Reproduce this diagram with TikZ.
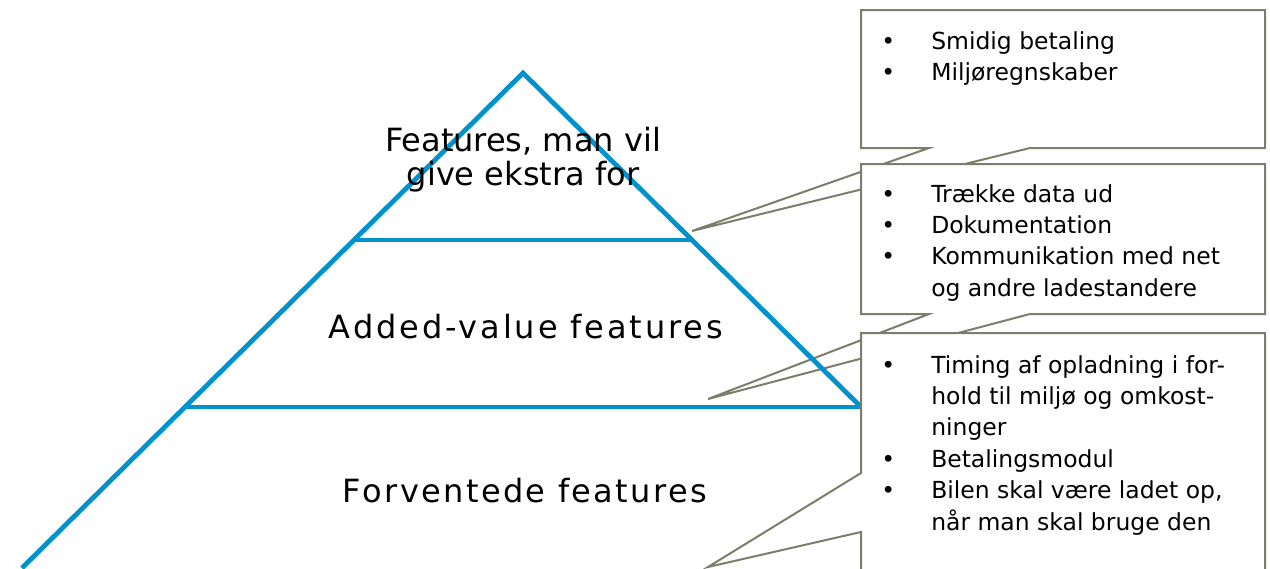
\documentclass[tikz,border=0pt]{standalone}
\usepackage{fontspec}
\setmainfont{DejaVu Sans}
\newfontfamily\spacedA[LetterSpace=9]{DejaVu Sans}
\newfontfamily\spacedB[LetterSpace=7.5]{DejaVu Sans}
\definecolor{pyrblue}{RGB}{0,146,205}
\definecolor{callgray}{RGB}{125,125,108}
\tikzset{
  pyr/.style={draw=pyrblue, line width=3.6pt, line join=miter},
  callout/.style={draw=callgray, fill=white, line width=1.5pt, line join=miter},
  biglabel/.style={anchor=base, inner sep=0pt, font=\fontsize{24pt}{25pt}\selectfont},
  bullets/.style={anchor=base west, inner sep=0pt, align=left,
    font=\fontsize{17.6pt}{23.6pt}\selectfont},
}
\newcommand{\bulletrows}[1]{\renewcommand{\arraystretch}{1}\begin{tabular}[t]{@{}p{37.5pt}@{}l@{}}#1\end{tabular}}
\begin{document}
\begin{tikzpicture}[x=0.75pt, y=-0.75pt]
\useasboundingbox (0,0) rectangle (1270,568);
\clip (0,0) rectangle (1270,568);

% callouts behind the pyramid
\coordinate (tip1) at (692,231);
\coordinate (tip2) at (708,399);
\coordinate (tip3) at (708,567);

\draw[callout] (861,10) -- (1265,10) -- (1265,148) -- (1030,148) -- (tip1) -- (929,148) -- (861,148) -- cycle;
\draw[callout] (861,164) -- (1265,164) -- (1265,314) -- (1030,314) -- (tip2) -- (929,314) -- (861,314) -- cycle;

% pyramid
\coordinate (apex) at (523,73);
\coordinate (bl) at (22,568);
\coordinate (l1) at (354,240);
\coordinate (r1) at (692,240);
\coordinate (l2) at (185,407);
\coordinate (r2) at (861,407);
\draw[pyr] (bl) -- (apex) -- (r2);
\draw[pyr] (l1) -- (r1);
\draw[pyr] (l2) -- (r2);

% third callout on top
\draw[callout] (861,333) -- (1265,333) -- (1265,640) -- (861,640) -- (861,532) -- (tip3) -- (861,473) -- cycle;

% pyramid labels
\node[biglabel] (top1) at (523,151) {Features, man vil};
\node[biglabel] (top2) at (523,185) {give ekstra for};
\node[biglabel, font=\fontsize{24pt}{25pt}\spacedA] (mid) at (526,338) {Added-value features};
\node[biglabel, font=\fontsize{24pt}{25pt}\spacedB] (low) at (525,502) {Forventede features};

% callout texts
\node[bullets] (t1) at (881,49) {\bulletrows{• & Smidig betaling\\ • & Miljøregnskaber}};
\node[bullets] (t2) at (881,202) {\bulletrows{• & Trække data ud\\ • & Dokumentation\\ • & Kommunikation med net\\ & og andre ladestandere}};
\node[bullets] (t3) at (881,373) {\bulletrows{• & Timing af opladning i for-\\ & hold til miljø og omkost-\\ & ninger\\ • & Betalingsmodul\\ • & Bilen skal være ladet op,\\ & når man skal bruge den}};
\end{tikzpicture}
\end{document}
